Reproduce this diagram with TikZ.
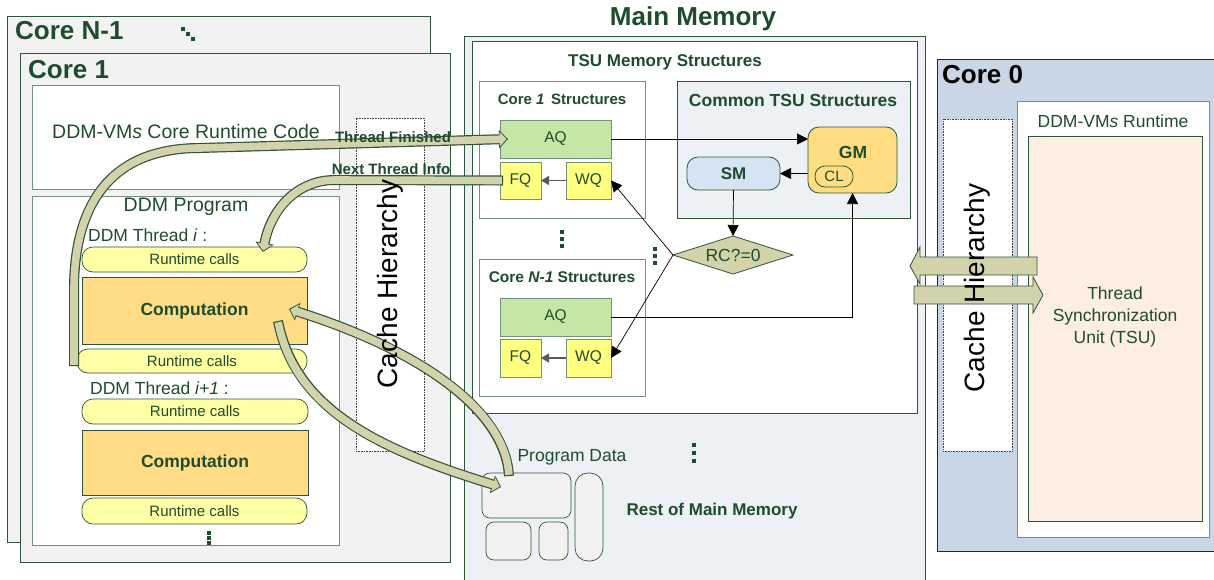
\documentclass[tikz,border=0pt]{standalone}
\usepackage{fontspec}
\setmainfont{Liberation Sans}
\usetikzlibrary{arrows.meta,shapes.geometric}
\definecolor{tg}{RGB}{30,76,44}
\definecolor{bd}{RGB}{115,145,125}
\definecolor{bdd}{RGB}{45,85,58}
\definecolor{coref}{RGB}{242,242,242}
\definecolor{memf}{RGB}{237,240,245}
\definecolor{c0f}{RGB}{201,214,229}
\definecolor{tsuf}{RGB}{253,238,227}
\definecolor{rty}{RGB}{255,255,166}
\definecolor{compf}{RGB}{255,220,133}
\definecolor{aqf}{RGB}{198,230,165}
\definecolor{qf}{RGB}{255,255,128}
\definecolor{gmf}{RGB}{255,221,128}
\definecolor{smf}{RGB}{214,227,243}
\definecolor{kh}{RGB}{210,211,170}
\definecolor{dk}{RGB}{50,82,57}
\newcommand{\mybox}[7]{\node[#6, minimum width={(#4)-(#2)}, minimum height={(#5)-(#3)}] (#1) at ({((#2)+(#4))/2},{((#3)+(#5))/2}) {#7};}
\newcommand{\fz}[1]{\fontsize{#1}{#1}\selectfont}
\newcommand{\fatarrow}[1]{%
  \draw[line width=10pt, draw=dk, -{Triangle[length=9pt,width=18pt]}] #1;
  \draw[line width=7.6pt, draw=kh, shorten <=1.2pt, shorten >=1.4pt, -{Triangle[length=6.8pt,width=14pt]}] #1;}
\newcommand{\dotsq}[2]{\fill[tg] ({#1-1.6},{#2-1.6}) rectangle ({#1+1.6},{#2+1.6});}
\tikzset{
  base/.style={inner sep=0pt, outer sep=0pt, text=tg},
  corebox/.style={base, fill=coref, draw=bdd, line width=0.9pt},
  wbox/.style={base, fill=white, draw=bd, line width=0.9pt},
  wboxd/.style={base, fill=white, draw=bdd, line width=0.9pt},
  membox/.style={base, fill=memf, draw=bdd, line width=0.9pt},
  rtbox/.style={base, fill=rty, draw=bdd, line width=0.7pt, rounded corners=11pt, font=\fz{15}},
  compbox/.style={base, fill=compf, draw=bdd, line width=0.7pt, font=\bfseries\fz{17.5}},
  aqbox/.style={base, fill=aqf, draw=bd, line width=0.8pt, font=\fz{15.5}},
  qbox/.style={base, fill=qf, draw=bd, line width=0.8pt, font=\fz{15.5}},
  cachebox/.style={base, fill=white, draw=black!75, densely dotted, line width=0.6pt},
  pdbox/.style={base, fill=coref, draw=bdd, line width=0.7pt, rounded corners=8pt},
  lbl/.style={inner sep=0pt, text=tg},
  arr/.style={draw=black, line width=0.7pt, -{Triangle[length=11pt,width=11pt]}},
  arrg/.style={draw=black!65, line width=1.2pt, -{Triangle[length=8pt,width=9pt]}},
  blockarr/.style={fill=kh, draw=dk, line width=0.8pt},
}
\begin{document}
\begin{tikzpicture}[x=1pt,y=-1pt]
\useasboundingbox (0,0) rectangle (1214,579);
% ---------- left cores ----------
\mybox{coreN}{7}{16}{430}{542}{corebox}{}
\node[lbl, anchor=west, font=\bfseries\fz{26}] (coreNlbl) at (15,31) {Core N-1};
\dotsq{183}{29}\dotsq{188}{34}\dotsq{193}{39}
\mybox{core1}{20}{53}{450}{562}{corebox}{}
\node[lbl, anchor=west, font=\bfseries\fz{26}] (core1lbl) at (28,70) {Core 1};
\mybox{rtcode}{32}{85}{339}{189}{wbox}{}
\node[lbl, font=\fz{19.5}] (rtcodelbl) at (186,132) {DDM-VM\textit{s} Core Runtime Code};
\mybox{prog}{32}{196}{339}{545}{wbox}{}
\node[lbl, font=\fz{19.5}] (proglbl) at (186,207) {DDM Program};
\node[lbl, anchor=west, font=\fz{17.5}] (thi) at (88,235) {DDM Thread \textit{i} :};
\mybox{rc1}{82}{247}{307}{272}{rtbox}{Runtime calls}
\mybox{comp1}{82}{277}{307}{344}{compbox}{Computation}
\mybox{rc2}{77}{349}{307}{373}{rtbox}{Runtime calls}
\node[lbl, anchor=west, font=\fz{17.5}] (thi1) at (90,388) {DDM Thread \textit{i+1} :};
\mybox{rc3}{82}{399}{308}{424}{rtbox}{Runtime calls}
\mybox{comp2}{82}{430}{308}{495}{compbox}{Computation}
\mybox{rc4}{82}{498}{307}{524}{rtbox}{Runtime calls}
\dotsq{209}{533}\dotsq{209}{538}\dotsq{209}{543}
\mybox{cacheL}{356}{118}{424}{451}{cachebox}{}
% ---------- main memory ----------
\node[lbl, font=\bfseries\fz{26}] (mmlbl) at (693,19) {Main Memory};
\mybox{mm}{464}{36}{925}{582}{membox}{}
\mybox{tsus}{472}{41}{917}{413}{wboxd}{}
\node[lbl, font=\bfseries\fz{17}] (tsuslbl) at (665,62) {TSU Memory Structures};
\mybox{c1s}{479}{81}{645}{218}{wbox}{}
\node[lbl, font=\bfseries\fz{15}] (c1slbl) at (562,99) {Core \textit{1}\, Structures};
\mybox{aq1}{500}{120}{611}{158}{aqbox}{AQ}
\mybox{fq1}{500}{162}{541}{199}{qbox}{FQ}
\mybox{wq1}{566}{162}{611}{199}{qbox}{WQ}
\mybox{cts}{677}{81}{910}{218}{membox}{}
\node[lbl, font=\bfseries\fz{17.5}] (ctslbl) at (793,100) {Common TSU Structures};
\mybox{gm}{808}{127}{897}{193}{base, fill=gmf, draw=bdd, line width=0.8pt, rounded corners=11pt}{}
\node[lbl, font=\bfseries\fz{17.5}] (gmlbl) at (853,152) {GM};
\mybox{cl}{815}{166}{853}{187}{base, draw=bdd, line width=0.8pt, rounded corners=10pt, font=\fz{15}}{CL}
\mybox{sm}{687}{157}{780}{190}{base, fill=smf, draw=bdd, line width=0.8pt, rounded corners=11pt, font=\bfseries\fz{17}}{SM}
\node[diamond, aspect=3, base, fill=kh, draw=bdd, line width=0.8pt, minimum width=120, minimum height=38, font=\fz{17.5}] (rc) at (733,255) {RC?=0};
\dotsq{562}{232}\dotsq{562}{239}\dotsq{562}{246}
\dotsq{655}{249}\dotsq{655}{256}\dotsq{655}{263}
\mybox{c2s}{479}{259}{645}{396}{wbox}{}
\node[lbl, font=\bfseries\fz{15.5}] (c2slbl) at (562,277) {Core \textit{N-1} Structures};
\mybox{aq2}{500}{298}{611}{336}{aqbox}{AQ}
\mybox{fq2}{500}{339}{541}{377}{qbox}{FQ}
\mybox{wq2}{566}{339}{611}{377}{qbox}{WQ}
% program data
\node[lbl, font=\fz{17.5}] (pdlbl) at (572,457) {Program Data};
\mybox{pd1}{482}{473}{571}{518}{pdbox}{}
\mybox{pd2}{486}{522}{531}{560}{pdbox}{}
\mybox{pd3}{539}{522}{568}{560}{pdbox}{}
\mybox{pd4}{575}{473}{603}{561}{pdbox, rounded corners=13pt}{}
\dotsq{694}{445}\dotsq{694}{453}\dotsq{694}{461}
\node[lbl, font=\bfseries\fz{17}] (restlbl) at (712,511) {Rest of Main Memory};
% ---------- core 0 ----------
\mybox{core0}{937}{59}{1225}{551}{base, fill=c0f, draw=black!85, line width=0.9pt}{}
\node[lbl, anchor=west, text=black, font=\bfseries\fz{26}] (core0lbl) at (942,75) {Core 0};
\mybox{rt0}{1017}{101}{1209}{537}{wbox}{}
\node[lbl, font=\fz{17.5}] (rt0lbl) at (1113,121) {DDM-VM\textit{s} Runtime};
\mybox{tsu}{1028}{136}{1202}{521}{base, fill=tsuf, draw=bdd, line width=0.9pt}{}
\node[lbl, align=center, font=\fontsize{17.5}{22}\selectfont] (tsulbl) at (1115,317) {Thread\\Synchronization\\Unit (TSU)};
\mybox{cacheR}{943}{119}{1012}{451}{cachebox}{}
% ---------- thin connectors ----------
\draw[arr] (aq1.east) -- (gm.west |- aq1.east);
\draw[arr] (gm.west |- sm.east) -- (sm.east);
\draw[arr] (sm.south) -- (rc.north);
\draw[arr] (rc.west) -- (wq1.east);
\draw[arr] (rc.west) -- (wq2.east);
\draw[arr] (aq2.east) -| (gm.south);
\draw[arrg] (wq1.west) -- (fq1.east);
\draw[arrg] (wq2.west) -- (fq2.east);
% ---------- fat arrows ----------
\coordinate (tfS) at (74,366);
\coordinate (tfE) at ([xshift=8]aq1.west);
\coordinate (ntS) at ([xshift=3]fq1.west);
\coordinate (ntE) at (263,252);
\coordinate (c3S) at (509,476);
\coordinate (c3E) at (289,309);
\coordinate (c4S) at (278,321);
\coordinate (c4E) at (501,487);
\fatarrow{(tfS) -- (74,290) .. controls (74,205) and (110,148) .. (200,148) -- (tfE)}
\fatarrow{(ntS) -- (335,180) .. controls (295,180) and (270,212) .. (ntE)}
\fatarrow{(c3S) .. controls (505,410) and (420,350) .. (c3E)}
\fatarrow{(c4S) .. controls (295,410) and (380,450) .. (c4E)}
\node[lbl, font=\bfseries\fz{15}] (tflbl) at (393,137) {Thread Finished};
\node[lbl, font=\bfseries\fz{15}] (ntlbl) at (391,169) {Next Thread Info};
% block arrows between memory and core 0
\coordinate (la) at (910,266);
\coordinate (ra) at (1043,295);
\filldraw[blockarr] (la) -- (920,247) -- (920,257) -- (1037,257) -- (1037,275) -- (920,275) -- (920,284) -- cycle;
\filldraw[blockarr] (ra) -- (1033,277) -- (1033,286) -- (914,286) -- (914,304) -- (1033,304) -- (1033,313) -- cycle;
% cache texts
\node[inner sep=0pt, rotate=90, font=\fz{28}] (cacheLlbl) at (cacheL.center |- 0,284) {Cache Hierarchy};
\node[inner sep=0pt, rotate=90, font=\fz{28}] (cacheRlbl) at (cacheR.center |- 0,288) {Cache Hierarchy};
\end{tikzpicture}
\end{document}
